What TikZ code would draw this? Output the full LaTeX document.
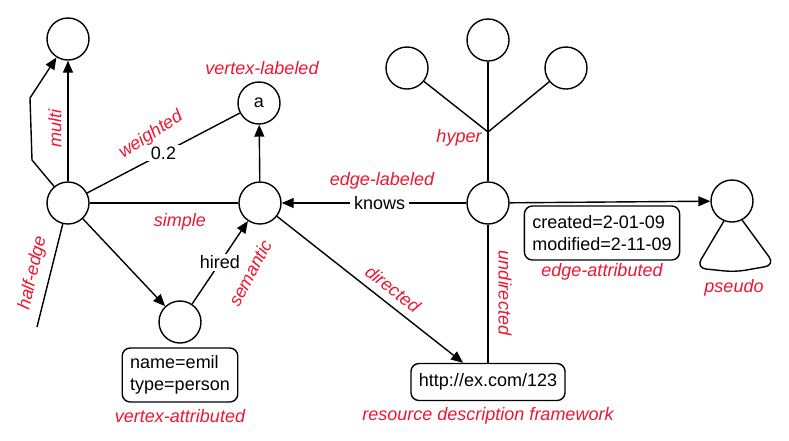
\documentclass[tikz,border=0pt]{standalone}
\usepackage{fontspec}
\setmainfont{Liberation Sans}
\usetikzlibrary{arrows.meta,calc}
\definecolor{lblred}{RGB}{238,22,48}
\begin{document}
\begin{tikzpicture}[x=1pt,y=-1pt,
  every node/.style={font=\fontsize{18}{21.5}\selectfont},
  vtx/.style={circle,draw,line width=1.4pt,minimum size=42pt,inner sep=0pt},
  abox/.style={draw,rounded corners=8pt,line width=1.4pt,align=left,inner xsep=8pt},
  lbl/.style={text=lblred,font=\fontsize{18}{21}\selectfont\itshape,inner sep=0pt},
  ln/.style={line width=1.4pt},
  arr/.style={ln,-{Triangle[length=12pt,width=10pt]}},
  wlbl/.style={fill=white,inner xsep=4pt,inner ysep=2pt}
]
\useasboundingbox (0,0) rectangle (789,440);

% vertices
\node[vtx] (T) at (68,39) {};
\node[vtx] (A) at (259,103) {a};
\node[vtx] (L) at (68,203) {};
\node[vtx] (S) at (260,203) {};
\node[vtx] (V) at (180,322) {};
\node[vtx] (H) at (488,203) {};
\node[vtx] (Pl) at (407,68) {};
\node[vtx] (Pt) at (488,40) {};
\node[vtx] (Pr) at (566,68) {};
\node[vtx] (P) at (732,201) {};
\coordinate (J) at (488,132);
\coordinate (HE) at (37,327);
\coordinate (M1) at (32,160);
\coordinate (M2) at (30,98);

% attribute boxes
\node[abox,minimum height=54pt] (attr) at (180,375) {name=emil\\type=person};
\node[abox,minimum height=37pt] (http) at (488,382) {http://ex.com/123};
\node[abox,minimum height=54pt] (eattr) at (602,233) {created=2-01-09\\modified=2-11-09};

% edges
\draw[arr] (L) -- (T);
\draw[arr] (L.130) -- (M1) -- (M2) -- (T.238);
\draw[ln] (L) -- node[wlbl] {0.2} (A);
\draw[arr] (S) -- (A);
\draw[ln] (L) -- (S);
\draw[arr] (L) -- (V);
\draw[arr] (V) -- node[wlbl] {hired} (S);
\draw[ln] (L) -- (HE);
\draw[arr] (H) -- node[wlbl,pos=0.47] {knows} (S);
\draw[arr] (S) -- ($(http.north west)!0.34!(http.north east)$);
\draw[ln] (H) -- (http);
\draw[ln] (J) -- (Pl);
\draw[ln] (J) -- (Pt);
\draw[ln] (J) -- (Pr);
\draw[ln] (J) -- (H);
\draw[arr] (H) -- (P);
\draw[ln,rounded corners=10pt] (P.248) -- (696,268) -- (735,272) -- (775,265) -- (P.298);

% labels
\node[lbl,rotate=90] (lmulti) at (55,128) {multi};
\node[lbl,rotate=33] (lweighted) at (151,135) {weighted};
\node[lbl] (lvl) at (262,68) {vertex-labeled};
\node[lbl] (lsimple) at (180,222) {simple};
\node[lbl,rotate=62] (lsem) at (250,273) {semantic};
\node[lbl,rotate=77] (lhalf) at (33,273) {half-edge};
\node[lbl] (lva) at (180,416) {vertex-attributed};
\node[lbl] (lel) at (382,181) {edge-labeled};
\node[lbl] (lhyper) at (459,138) {hyper};
\node[lbl,rotate=-38] (ldir) at (393,289) {directed};
\node[lbl,rotate=-90] (lundir) at (505,293) {undirected};
\node[lbl] (lrdf) at (488,416) {resource description framework};
\node[lbl] (lea) at (602,272) {edge-attributed};
\node[lbl] (lps) at (734,288) {pseudo};
\end{tikzpicture}
\end{document}
